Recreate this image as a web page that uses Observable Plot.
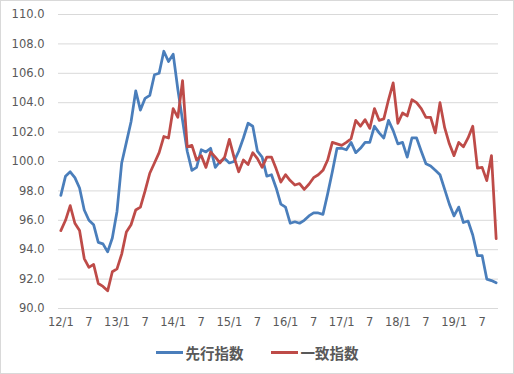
<!DOCTYPE html>
<html><head><meta charset="utf-8">
<script src="https://cdn.jsdelivr.net/npm/d3@7"></script>
<script src="https://cdn.jsdelivr.net/npm/@observablehq/plot@0.6"></script>
<style>
body{margin:0;background:#fff;}
#chart{position:relative;width:514px;height:374px;box-sizing:border-box;border:1px solid #d9d9d9;background:#fff;overflow:hidden;}
#plot{position:absolute;left:0;top:0;}
#legend{position:absolute;left:0;right:0;top:341px;height:20px;display:flex;justify-content:center;align-items:center;font-family:"Noto Sans CJK JP","Noto Sans CJK SC",sans-serif;font-weight:bold;font-size:14.5px;color:#595959;}
.item{display:flex;align-items:center;}
.sw{width:27px;height:3px;margin-right:3px;}
.gap{width:27px;}
</style></head>
<body>
<div id="chart"><div id="plot"></div><div id="legend"></div></div>
<script>
// Series names and colours
const seriesNames = ["先行指数", "一致指数"];
const seriesColors = ["#4a7ebb", "#be4b48"];
// Monthly values, 2012/1 .. 2019/10
const leading = [
  97.7, 99.0, 99.3, 98.9, 98.2, 96.7, 96.0, 95.7, 94.5, 94.4, 93.85, 94.8,
  96.6, 99.9, 101.3, 102.7, 104.8, 103.5, 104.3, 104.5, 105.9, 106.0, 107.5, 106.8,
  107.3, 104.9, 102.8, 100.7, 99.4, 99.6, 100.8, 100.65, 100.9, 99.6, 100.0, 100.2,
  99.9, 100.0, 100.7, 101.6, 102.6, 102.4, 100.7, 100.3, 99.0, 99.1, 98.2, 97.1,
  96.9, 95.8, 95.9, 95.8, 96.0, 96.3, 96.5, 96.5, 96.4, 97.8, 99.3, 100.9,
  100.9, 100.8, 101.3, 100.6, 100.9, 101.3, 101.3, 102.4, 101.95, 101.6, 102.8, 102.1,
  101.2, 101.3, 100.3, 101.6, 101.6, 100.7, 99.85, 99.7, 99.4, 99.1, 98.1, 97.1,
  96.3, 96.9, 95.85, 95.95, 95.0, 93.6, 93.6, 92.0, 91.9, 91.75
];
const coincident = [
  95.3, 96.0, 97.0, 95.8, 95.3, 93.4, 92.8, 93.0, 91.7, 91.5, 91.2, 92.5,
  92.7, 93.7, 95.2, 95.7, 96.7, 96.9, 98.0, 99.2, 99.9, 100.6, 101.7, 101.6,
  103.6, 103.0, 105.5, 101.0, 101.1, 100.1, 100.4, 99.6, 100.65, 100.3, 99.9, 100.3,
  101.5, 100.3, 99.3, 100.1, 99.8, 100.6, 100.2, 99.6, 100.3, 100.3, 99.5, 98.6,
  99.1, 98.7, 98.4, 98.5, 98.1, 98.45, 98.9, 99.1, 99.4, 100.1, 101.3, 101.2,
  101.1, 101.3, 101.55, 102.8, 102.4, 102.85, 102.25, 103.6, 102.8, 102.9, 104.2, 105.35,
  102.6, 103.3, 103.1, 104.2, 104.0, 103.6, 103.0, 103.0, 101.95, 104.0, 102.3, 101.2,
  100.4, 101.3, 101.0, 101.6, 102.4, 99.55, 99.6, 98.7, 100.4, 94.75
];
// X tick labels (every 6 months)
const tickLabels = ["12/1","7","13/1","7","14/1","7","15/1","7","16/1","7","17/1","7","18/1","7","19/1","7"];
const yTicks = [90, 92, 94, 96, 98, 100, 102, 104, 106, 108, 110];

const rows = [];
[leading, coincident].forEach((arr, s) => arr.forEach((v, i) => rows.push({i, v, series: seriesNames[s]})));
const tickPos = tickLabels.map((_, k) => k * 6);
const n = leading.length;

const font = "'DejaVu Sans', sans-serif";
const chart = Plot.plot({
  width: 512, height: 335,
  marginLeft: 57, marginRight: 15, marginTop: 13, marginBottom: 28,
  style: {fontFamily: font, fontSize: "11.5px", color: "#595959", background: "transparent"},
  x: {type: "linear", domain: [-0.5, n - 0.5]},
  y: {domain: [90, 110]},
  color: {domain: seriesNames, range: seriesColors},
  marks: [
    Plot.gridY(yTicks, {stroke: "#d9d9d9", strokeOpacity: 1, strokeWidth: 1}),
    Plot.axisY(yTicks, {tickSize: 0, tickPadding: 14, tickFormat: d => d.toFixed(1), label: null, fill: "#595959", fontSize: 11.5}),
    Plot.axisX(tickPos, {tickSize: 0, tickPadding: 9, tickFormat: (d, k) => tickLabels[k], label: null, fill: "#595959", fontSize: 11.5}),
    Plot.line(rows, {x: "i", y: "v", z: "series", stroke: "series", strokeWidth: 2.75, strokeLinejoin: "round", strokeLinecap: "round"})
  ]
});
document.getElementById("plot").appendChild(chart);

const legend = document.getElementById("legend");
seriesNames.forEach((name, k) => {
  if (k > 0) { const g = document.createElement("div"); g.className = "gap"; legend.appendChild(g); }
  const item = document.createElement("div"); item.className = "item";
  const sw = document.createElement("div"); sw.className = "sw"; sw.style.background = seriesColors[k];
  const t = document.createElement("span"); t.textContent = name;
  item.appendChild(sw); item.appendChild(t); legend.appendChild(item);
});
</script>
</body></html>
